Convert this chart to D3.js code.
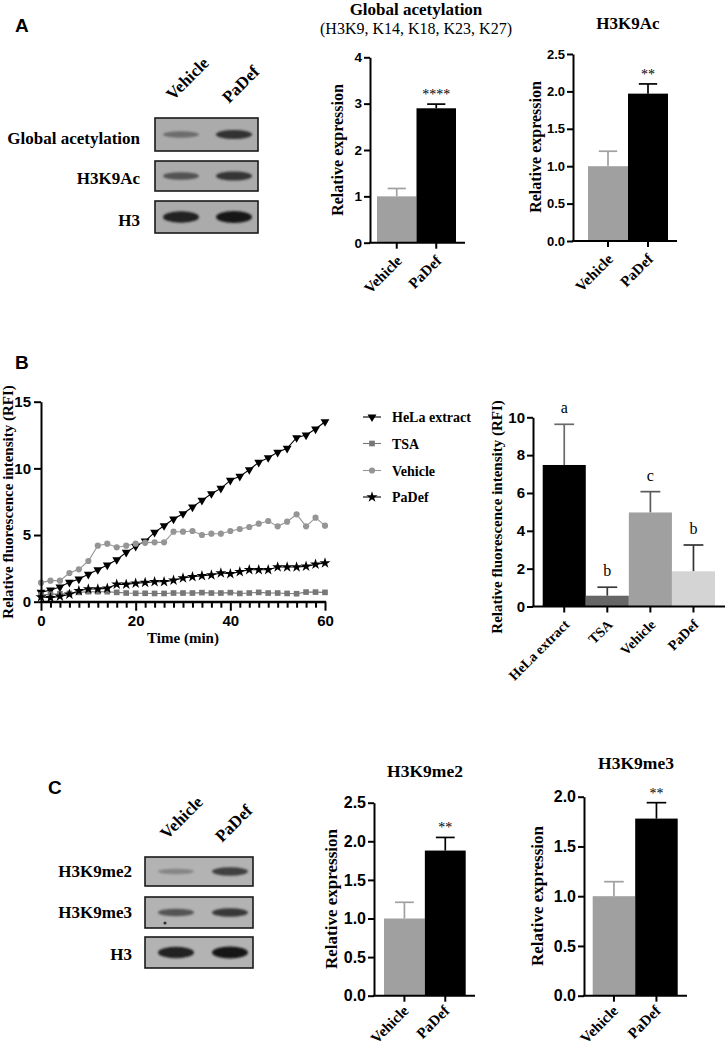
<!DOCTYPE html>
<html><head><meta charset="utf-8">
<script src="https://cdn.jsdelivr.net/npm/d3@7"></script>
<style>
body{margin:0;background:#fff}
svg{display:block}
</style>
</head><body>
<svg id="fig" width="726" height="1049"></svg>
<script>
// ---------------- DATA ----------------
const groups = ["Vehicle", "PaDef"];
// Panel A
const globalAcMean = [1.0, 2.9];
const globalAcSem  = [0.17, 0.09];
const h3k9acMean   = [1.0, 1.97];
const h3k9acSem    = [0.2, 0.13];
const ticksGlobalAc = [0, 1, 2, 3, 4];
const ticksH3k9ac   = [0, 0.5, 1.0, 1.5, 2.0, 2.5];
// Panel B - kinetics
const timeMin = [0,2,4,6,8,10,12,14,16,18,20,22,24,26,28,30,32,34,36,38,40,42,44,46,48,50,52,54,56,58,60];
const helaRFI = [0.7,0.88,1.1,1.45,1.7,2.05,2.4,2.75,3.15,3.7,4.15,4.55,5.2,5.7,6.2,6.6,7.1,7.6,8.1,8.5,9.1,9.4,9.9,10.45,10.8,11.2,11.5,12.3,12.5,12.95,13.5];
const tsaRFI  = [0.5,0.55,0.6,0.62,0.7,0.75,0.75,0.75,0.7,0.65,0.63,0.63,0.62,0.62,0.65,0.65,0.65,0.68,0.65,0.65,0.68,0.62,0.65,0.7,0.65,0.65,0.62,0.6,0.72,0.72,0.7];
const vehRFI  = [1.43,1.58,1.58,2.15,2.43,3.05,4.2,4.35,4.08,4.2,4.35,4.43,4.45,4.45,5.25,5.25,5.3,5.0,5.1,5.1,5.3,5.45,5.6,5.85,6.05,5.65,6.0,6.55,5.65,6.3,5.7];
const padefRFI= [0.35,0.3,0.4,0.55,0.82,0.95,0.95,1.0,1.3,1.3,1.38,1.43,1.5,1.5,1.6,1.78,1.87,1.95,2.0,2.15,2.1,2.25,2.4,2.4,2.4,2.6,2.6,2.6,2.65,2.8,2.9];
const lineSeries = ["HeLa extract", "TSA", "Vehicle", "PaDef"];
const lineTicksY = [0, 5, 10, 15];
const lineTicksX = [0, 20, 40, 60];
// Panel B - bars
const hdacCats = ["HeLa extract", "TSA", "Vehicle", "PaDef"];
const hdacMean = [7.48, 0.57, 4.97, 1.86];
const hdacSem  = [2.15, 0.45, 1.1, 1.39];
const hdacLetters = ["a", "b", "c", "b"];
const hdacTicks = [0, 2, 4, 6, 8, 10];
// Panel C
const h3k9me2Mean = [1.0, 1.88];
const h3k9me2Sem  = [0.21, 0.17];
const h3k9me3Mean = [1.0, 1.78];
const h3k9me3Sem  = [0.146, 0.16];
const ticksMe2 = [0, 0.5, 1.0, 1.5, 2.0, 2.5];
const ticksMe3 = [0, 0.5, 1.0, 1.5, 2.0];
// Western blots (band darkness 0..1)
const blotARows = ["Global acetylation", "H3K9Ac", "H3"];
const blotAVehicle = [0.45, 0.62, 0.95];
const blotAPaDef   = [0.85, 0.82, 1.0];
const blotCRows = ["H3K9me2", "H3K9me3", "H3"];
const blotCVehicle = [0.28, 0.6, 0.95];
const blotCPaDef   = [0.75, 0.8, 1.0];

// ---------------- DRAW ----------------
const SERIF = "'Liberation Serif','Times New Roman',serif";
const SANS = "'Liberation Sans',Arial,sans-serif";
const svg = d3.select("#fig");
svg.append("rect").attr("width",726).attr("height",1049).attr("fill","#fff");
const defs = svg.append("defs");
defs.append("filter").attr("id","blur").attr("x","-30%").attr("y","-100%").attr("width","160%").attr("height","300%")
  .append("feGaussianBlur").attr("stdDeviation", 1.3);

function panelLetter(t, x, y){
  svg.append("text").attr("x",x).attr("y",y).text(t)
    .attr("font-family",SANS).attr("font-weight","bold").attr("font-size",19);
}
panelLetter("A", 15, 32);
panelLetter("B", 15, 369);
panelLetter("C", 48, 794);

function styleAxis(sel, fs){
  sel.select(".domain").attr("stroke","#000").attr("stroke-width",2);
  sel.selectAll(".tick line").attr("stroke","#000").attr("stroke-width",2);
  sel.selectAll(".tick text").attr("font-family",SANS).attr("font-weight","bold")
    .attr("font-size",fs).attr("fill","#000");
}

// ---- blot ----
function blot(o){
  const g = svg.append("g");
  o.rows.forEach((r,i)=>{
    const [y0,y1] = o.boxes[i];
    g.append("rect").attr("x",o.x0).attr("y",y0).attr("width",o.x1-o.x0).attr("height",y1-y0)
      .attr("fill",o.bg).attr("stroke","#1a1a1a").attr("stroke-width",1.6);
    const cy = (y0+y1)/2;
    [o.veh[i], o.pad[i]].forEach((v,j)=>{
      const L = Math.round(175 - 150*v);
      g.append("ellipse").attr("cx",o.centers[j]).attr("cy",cy)
        .attr("rx",o.halfW).attr("ry",1.8+3.2*v*(i===2?1.3:1))
        .attr("fill",d3.rgb(L,L,L)).attr("filter","url(#blur)");
    });
    g.append("text").attr("x",o.labelX).attr("y",o.labelY[i]).text(r)
      .attr("text-anchor","end").attr("font-family",SERIF).attr("font-weight","bold").attr("font-size",17);
  });
  groups.forEach((gname,j)=>{
    g.append("text").attr("transform",`translate(${o.colAnchors[j][0]},${o.colAnchors[j][1]}) rotate(-45)`)
      .text(gname).attr("font-family",SERIF).attr("font-weight","bold").attr("font-size",17);
  });
  if (o.dot) g.append("circle").attr("cx",o.dot[0]).attr("cy",o.dot[1]).attr("r",1.6).attr("fill","#333");
}
blot({rows:blotARows, veh:blotAVehicle, pad:blotAPaDef, x0:155, x1:258,
  boxes:[[118,151],[161,191],[201,233]], centers:[181,234], halfW:18, bg:"#ababab",
  labelX:140, labelY:[144,184,226], colAnchors:[[173,101],[229,104]]});
blot({rows:blotCRows, veh:blotCVehicle, pad:blotCPaDef, x0:145, x1:253,
  boxes:[[857,886],[897,928],[937,968]], centers:[176,230], halfW:18, bg:"#b3b3b3",
  labelX:132, labelY:[877,918,960], colAnchors:[[167,840],[222,843]], dot:[165,923]});

// ---- bar chart ----
function barPanel(o){
  const g = svg.append("g");
  const x = d3.scaleBand().domain(o.cats).range(o.band).padding(0);
  const y = d3.scaleLinear().domain([0,o.ymax]).range(o.yr);
  const bw = x.bandwidth();
  o.cats.forEach((c,i)=>{
    const cx = x(c)+bw/2, yt = y(o.means[i]+o.sems[i]);
    g.append("line").attr("x1",cx).attr("x2",cx).attr("y1",y(o.means[i])).attr("y2",yt)
      .attr("stroke",o.errColors[i]).attr("stroke-width",1.7);
    g.append("line").attr("x1",cx-bw*0.23).attr("x2",cx+bw*0.23).attr("y1",yt).attr("y2",yt)
      .attr("stroke",o.errColors[i]).attr("stroke-width",1.7);
    if (o.marks && o.marks[i]) {
      g.append("text").attr("x",cx).attr("y",yt-o.markGap).text(o.marks[i])
        .attr("text-anchor","middle").attr("font-family",SERIF).attr("font-size",o.markSize);
    }
  });
  g.selectAll("rect.bar").data(o.cats).join("rect").attr("class","bar")
    .attr("x",d=>x(d)).attr("width",bw)
    .attr("y",(d,i)=>y(o.means[i])).attr("height",(d,i)=>y(0)-y(o.means[i]))
    .attr("fill",(d,i)=>o.colors[i]);
  const ya = g.append("g").attr("transform",`translate(${o.ax},0)`)
    .call(d3.axisLeft(y).tickValues(o.ticks).tickFormat(o.fmt).tickSize(6).tickSizeOuter(0).tickPadding(2));
  styleAxis(ya, o.fs);
  g.append("line").attr("x1",o.ax-1).attr("x2",o.xEnd).attr("y1",y(0)).attr("y2",y(0))
    .attr("stroke","#000").attr("stroke-width",2);
  o.cats.forEach((c)=>{
    const cx = x(c)+bw/2;
    g.append("line").attr("x1",cx).attr("x2",cx).attr("y1",y(0)).attr("y2",y(0)+6)
      .attr("stroke","#000").attr("stroke-width",2);
    g.append("text").attr("transform",`translate(${cx+o.xlOff[0]},${y(0)+o.xlOff[1]}) rotate(-45)`)
      .text(c).attr("text-anchor","end").attr("font-family",SERIF).attr("font-weight","bold")
      .attr("font-size",o.xfs);
  });
  g.append("text").attr("transform",`translate(${o.yl[0]},${o.yl[1]}) rotate(-90)`)
    .text(o.ylabel).attr("text-anchor","middle").attr("font-family",SERIF)
    .attr("font-weight","bold").attr("font-size",o.ylfs);
  (o.titles||[]).forEach(t=>{
    g.append("text").attr("x",t.x).attr("y",t.y).text(t.text).attr("text-anchor","middle")
      .attr("font-family",SERIF).attr("font-weight",t.bold?"bold":"normal").attr("font-size",t.size);
  });
}
const fmt0 = d3.format("d"), fmt1 = d3.format(".1f");

barPanel({cats:groups, means:globalAcMean, sems:globalAcSem, ymax:4, ticks:ticksGlobalAc, fmt:fmt0,
  band:[377,456], yr:[242.7,57.3], ax:370, xEnd:465, colors:["#a0a0a0","#000"], errColors:["#a0a0a0","#000"],
  marks:["","****"], markGap:5, markSize:14, fs:13.5, xfs:15, xlOff:[6,19], ylfs:16, yl:[343,150], ylabel:"Relative expression",
  titles:[{text:"Global acetylation",x:416,y:15,size:17,bold:true},{text:"(H3K9, K14, K18, K23, K27)",x:416,y:34,size:16,bold:false}]});
barPanel({cats:groups, means:h3k9acMean, sems:h3k9acSem, ymax:2.5, ticks:ticksH3k9ac, fmt:fmt1,
  band:[588,668], yr:[241,54], ax:573, xEnd:677, colors:["#a0a0a0","#000"], errColors:["#a0a0a0","#000"],
  marks:["","**"], markGap:5, markSize:14, fs:13, xfs:15, xlOff:[6,19], ylfs:16, yl:[541,147], ylabel:"Relative expression",
  titles:[{text:"H3K9Ac",x:628,y:29,size:17,bold:true}]});
barPanel({cats:hdacCats, means:hdacMean, sems:hdacSem, ymax:10, ticks:hdacTicks, fmt:fmt0,
  band:[542.7,715], yr:[606.5,417.3], ax:533, xEnd:725, colors:["#000","#666","#a0a0a0","#d4d4d4"],
  errColors:["#6a6a6a","#3a3a3a","#5a5a5a","#333"],
  marks:hdacLetters, markGap:11, markSize:16, fs:15, xfs:14, xlOff:[6,19], ylfs:15, yl:[502,517],
  ylabel:"Relative fluorescence intensity (RFI)"});
barPanel({cats:groups, means:h3k9me2Mean, sems:h3k9me2Sem, ymax:2.5, ticks:ticksMe2, fmt:fmt1,
  band:[384,465.7], yr:[995.7,802.7], ax:374, xEnd:475, colors:["#a0a0a0","#000"], errColors:["#a0a0a0","#000"],
  marks:["","**"], markGap:5, markSize:14, fs:16, xfs:15, xlOff:[5,16], ylfs:17, yl:[337,899], ylabel:"Relative expression",
  titles:[{text:"H3K9me2",x:425,y:777,size:17.5,bold:true}]});
barPanel({cats:groups, means:h3k9me3Mean, sems:h3k9me3Sem, ymax:2.0, ticks:ticksMe3, fmt:fmt1,
  band:[592.7,677.7], yr:[995.7,796.7], ax:584, xEnd:687, colors:["#a0a0a0","#000"], errColors:["#a0a0a0","#000"],
  marks:["","**"], markGap:5, markSize:14, fs:16, xfs:15, xlOff:[5,16], ylfs:17, yl:[543,896], ylabel:"Relative expression",
  titles:[{text:"H3K9me3",x:636,y:769,size:17.5,bold:true}]});

// ---- line chart ----
(function(){
  const g = svg.append("g");
  const x = d3.scaleLinear().domain([0,60]).range([41,325]);
  const y = d3.scaleLinear().domain([0,15]).range([601.7,401.7]);
  const series = [
    {name:lineSeries[0], vals:helaRFI, color:"#000", sym:"tri"},
    {name:lineSeries[1], vals:tsaRFI, color:"#777", sym:"sq"},
    {name:lineSeries[2], vals:vehRFI, color:"#959595", sym:"circ"},
    {name:lineSeries[3], vals:padefRFI, color:"#000", sym:"star"}
  ];
  function symPath(s){
    if (s==="tri") return d3.symbol(d3.symbolTriangle, 34)();
    if (s==="sq") return d3.symbol(d3.symbolSquare, 32)();
    if (s==="circ") return d3.symbol(d3.symbolCircle, 30)();
    return d3.symbol(d3.symbolStar, 38)();
  }
  const line = d3.line().x((d,i)=>x(timeMin[i])).y(d=>y(d));
  series.forEach(s=>{
    g.append("path").attr("d",line(s.vals)).attr("fill","none").attr("stroke",s.color).attr("stroke-width",1.1);
  });
  series.forEach(s=>{
    g.selectAll(null).data(s.vals).join("path")
      .attr("d",symPath(s.sym))
      .attr("transform",(d,i)=>`translate(${x(timeMin[i])},${y(d)})${s.sym==="tri"?" rotate(180)":""}`)
      .attr("fill",s.color);
  });
  const ya = g.append("g").attr("transform","translate(41,0)")
    .call(d3.axisLeft(y).tickValues(lineTicksY).tickSize(7).tickSizeOuter(0).tickPadding(3));
  styleAxis(ya, 15);
  const xminor = g.append("g").attr("transform","translate(0,601.7)")
    .call(d3.axisBottom(x).tickValues(timeMin.filter(t=>!lineTicksX.includes(t))).tickSize(6).tickSizeOuter(0).tickFormat(""));
  styleAxis(xminor, 15);
  const xa = g.append("g").attr("transform","translate(0,601.7)")
    .call(d3.axisBottom(x).tickValues(lineTicksX).tickSize(9).tickSizeOuter(0).tickPadding(5));
  styleAxis(xa, 15);
  xa.select(".domain").attr("d","M40,0H326");
  g.append("text").attr("x",183).attr("y",643).text("Time (min)").attr("text-anchor","middle")
    .attr("font-family",SERIF).attr("font-weight","bold").attr("font-size",15);
  g.append("text").attr("transform","translate(13,502) rotate(-90)").text("Relative fluorescence intensity (RFI)")
    .attr("text-anchor","middle").attr("font-family",SERIF).attr("font-weight","bold").attr("font-size",15);
  const ly = [417, 443.5, 470.5, 497];
  series.forEach((s,i)=>{
    g.append("line").attr("x1",363).attr("x2",381).attr("y1",ly[i]).attr("y2",ly[i]).attr("stroke",s.color).attr("stroke-width",1.1);
    g.append("path").attr("d",symPath(s.sym))
      .attr("transform",`translate(372,${ly[i]})${s.sym==="tri"?" rotate(180)":""}`).attr("fill",s.color);
    g.append("text").attr("x",392).attr("y",ly[i]+5).text(s.name)
      .attr("font-family",SERIF).attr("font-weight","bold").attr("font-size",14);
  });
})();
</script>
</body></html>
